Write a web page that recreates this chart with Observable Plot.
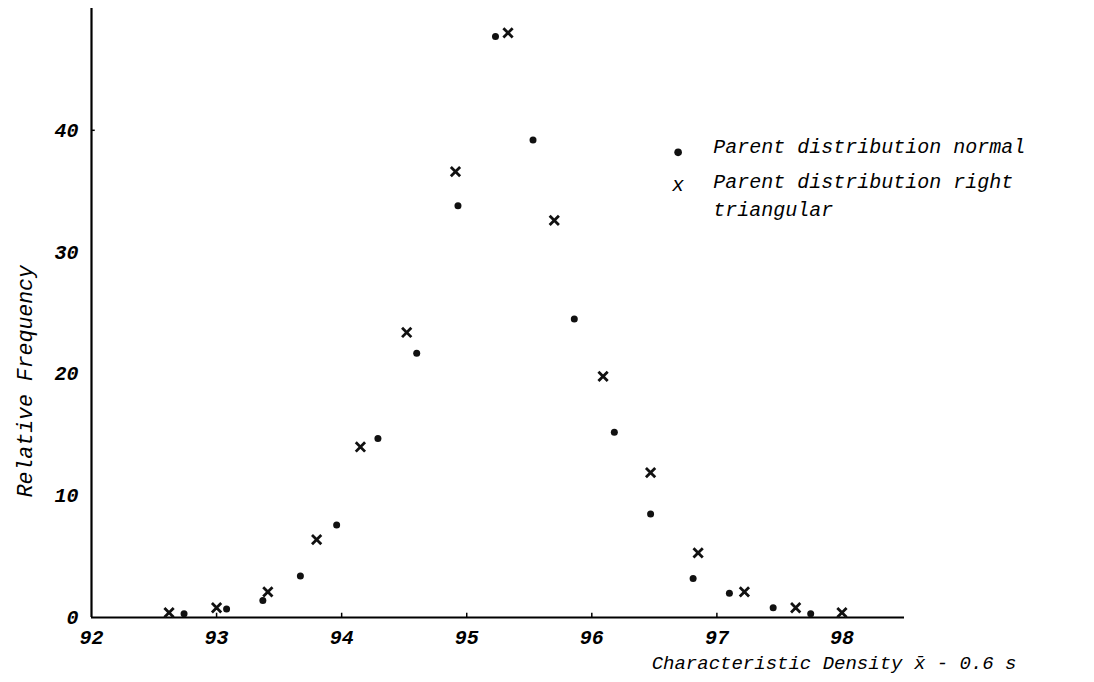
<!DOCTYPE html>
<html>
<head>
<meta charset="utf-8">
<script src="https://cdn.jsdelivr.net/npm/d3@7"></script>
<script src="https://cdn.jsdelivr.net/npm/@observablehq/plot@0.6"></script>
<style>
  html, body { margin: 0; padding: 0; background: #fff; }
  #chart svg { display: block; }
</style>
</head>
<body>
<div id="chart"></div>
<script>
// Parent distribution normal (dots)
const normalX = [92.74, 93.08, 93.37, 93.67, 93.96, 94.29, 94.60, 94.93, 95.23, 95.53, 95.86, 96.18, 96.47, 96.81, 97.10, 97.45, 97.75];
const normalY = [0.3, 0.7, 1.4, 3.4, 7.6, 14.7, 21.7, 33.8, 47.7, 39.2, 24.5, 15.2, 8.5, 3.2, 2.0, 0.8, 0.3];
// Parent distribution right triangular (x marks)
const triX = [92.62, 93.00, 93.41, 93.80, 94.15, 94.52, 94.91, 95.33, 95.70, 96.09, 96.47, 96.85, 97.22, 97.63, 98.00];
const triY = [0.4, 0.8, 2.1, 6.4, 14.0, 23.4, 36.6, 48.0, 32.6, 19.8, 11.9, 5.3, 2.1, 0.8, 0.4];

const xTicks = [92, 93, 94, 95, 96, 97, 98];
const yTicks = [0, 10, 20, 30, 40];
const legendLines = ["Parent distribution normal", "Parent distribution right", "triangular"];
const xLabel = "Characteristic Density x\u0304 - 0.6 s";
const yLabel = "Relative Frequency";

const normal = normalX.map((x, i) => ({x, y: normalY[i]}));
const tri = triX.map((x, i) => ({x, y: triY[i]}));

// legend anchor (data coordinates)
const legX = 96.97, legSymX = 96.69;
const legendText = [
  {label: legendLines[0], y: 38.69},
  {label: legendLines[1], y: 35.81},
  {label: legendLines[2], y: 33.50}
];

const font = "'Liberation Mono', 'DejaVu Sans Mono', monospace";

const chart = Plot.plot({
  width: 1094,
  height: 682,
  marginLeft: 91,
  marginRight: 190,
  marginTop: 8,
  marginBottom: 65,
  x: {domain: [92, 98.5]},
  y: {domain: [0, 50]},
  style: {fontFamily: font, fontStyle: "italic", fontSize: "20px", background: "#fff", color: "#000"},
  marks: [
    Plot.axisX({ticks: xTicks, tickSize: 0, tickPadding: 12, label: null, tickFormat: d => String(d), fontSize: 20, fontWeight: "bold"}),
    Plot.axisY({ticks: yTicks, tickSize: 0, tickPadding: 13, label: null, tickFormat: d => String(d), fontSize: 20, fontWeight: "bold"}),
    Plot.ruleX(xTicks.slice(1, -1), {x: d => d, y1: 0, y2: 0.35, stroke: "#000", strokeWidth: 1.5}),
    Plot.ruleY([40], {y: d => d, x1: 92, x2: 92.03, stroke: "#000", strokeWidth: 1.5}),
    Plot.ruleX([92], {stroke: "#000", strokeWidth: 2.2}),
    Plot.ruleY([0], {stroke: "#000", strokeWidth: 2.2}),
    Plot.dot(normal, {x: "x", y: "y", r: 3.5, fill: "#111", stroke: "none"}),
    Plot.dot(tri, {x: "x", y: "y", symbol: "times", r: 4.3, stroke: "#111", strokeWidth: 2.8}),
    // legend
    Plot.dot([0], {x: () => legSymX, y: () => 38.19, r: 3.8, fill: "#111", stroke: "none"}),
    Plot.text(["x"], {x: () => legSymX, y: () => 35.56, text: d => d, fontSize: 20, fontStyle: "italic", fontFamily: font, fill: "#000"}),
    Plot.text(legendText, {x: () => legX, y: "y", text: "label", textAnchor: "start", fontSize: 20, fontStyle: "italic", fontFamily: font, fill: "#000"}),
    // axis labels
    Plot.text([xLabel], {frameAnchor: "bottom-right", dx: 112, dy: 51, textAnchor: "end", text: d => d, fontSize: 19, fontStyle: "italic", fontFamily: font, fill: "#000"}),
    Plot.text([yLabel], {x: () => 91.47, y: () => 19.4, rotate: -90, text: d => d, fontSize: 21.5, fontStyle: "italic", fontFamily: font, fill: "#000"})
  ]
});
document.getElementById("chart").append(chart);
</script>
</body>
</html>
